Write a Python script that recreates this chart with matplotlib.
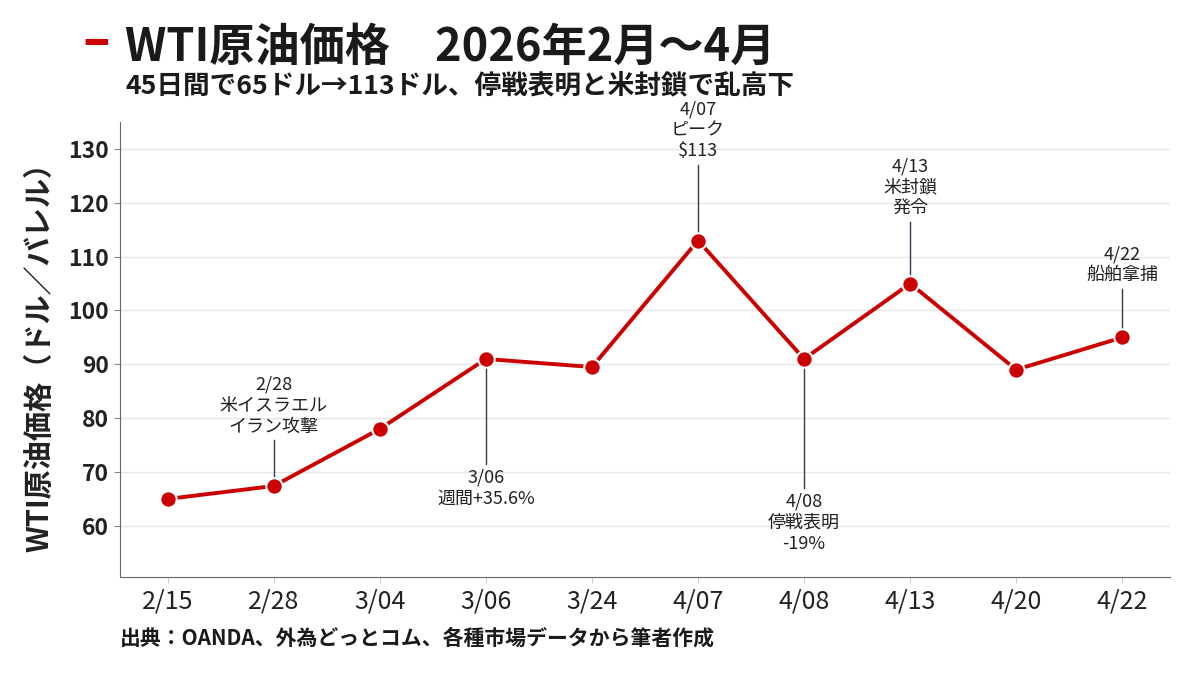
import matplotlib
matplotlib.use('Agg')
import matplotlib.pyplot as plt

plt.rcParams['font.family'] = ['Noto Sans CJK JP', 'DejaVu Sans']

dates = ['2/15', '2/28', '3/04', '3/06', '3/24', '4/07', '4/08', '4/13', '4/20', '4/22']
prices = [65, 67.4, 78, 91, 89.5, 113, 91, 105, 89, 95]

# annotations: index, text, above/below
notes = [
    (1, '2/28\n米イスラエル\nイラン攻撃', 'up'),
    (3, '3/06\n週間+35.6%', 'down'),
    (5, '4/07\nピーク\n$113', 'up'),
    (6, '4/08\n停戦表明\n-19%', 'down'),
    (7, '4/13\n米封鎖\n発令', 'up'),
    (9, '4/22\n船舶拿捕', 'up'),
]
# line length (price units) for each note
note_len = [8.5, 19.5, 14, 24, 11.5, 9]

red = '#cc0000'
navy = '#2c3e50'

fig = plt.figure(figsize=(12, 6.8), dpi=100)
ax = fig.add_axes([0.1, 0.1515, 0.875, 0.669])

x = list(range(len(dates)))
ax.plot(x, prices, color=red, lw=2.8, zorder=3)
ax.scatter(x, prices, s=140, color=red, edgecolor='white', linewidth=1.5, zorder=4)

for (i, txt, side), L in zip(notes, note_len):
    y0 = prices[i]
    if side == 'up':
        y1 = y0 + L
        ax.plot([i, i], [y0, y1], color=navy, lw=1, zorder=2)
        ax.text(i, y1 + 0.9, txt, ha='center', va='bottom', fontsize=13,
                color='#222222', linespacing=1.2)
    else:
        y1 = y0 - L
        ax.plot([i, i], [y0, y1], color=navy, lw=1, zorder=2)
        ax.text(i, y1 - 0.9, txt, ha='center', va='top', fontsize=13,
                color='#222222', linespacing=1.2)

ax.set_xlim(-0.45, 9.45)
ax.set_ylim(50.5, 135)
ax.set_xticks(x)
ax.set_xticklabels(dates, fontsize=18, color='#222222')
ax.set_yticks(range(60, 131, 10))
ax.set_yticklabels([str(v) for v in range(60, 131, 10)], fontsize=16.5,
                   fontweight='bold', color='#222222')
ax.tick_params(axis='x', length=4, color='#cccccc', pad=4)
ax.tick_params(axis='y', length=4, color='#888888', pad=4)
ax.grid(axis='y', color='#e6e6e6', lw=1)
ax.set_axisbelow(True)
for s in ['top', 'right']:
    ax.spines[s].set_visible(False)
for s in ['left', 'bottom']:
    ax.spines[s].set_color('#666666')

ax.set_ylabel('WTI原油価格（ドル／バレル）', fontsize=21, fontweight='bold',
              color='#222222', labelpad=10)

# title block
fig.text(0.071, 0.935, '━', color=red, fontsize=26, va='center', ha='left',
         family=['DejaVu Sans'])
fig.text(0.104, 0.929, 'WTI原油価格　2026年2月～4月', fontsize=32.5,
         fontweight='bold', color='#1a1a1a', va='center', ha='left')
fig.text(0.105, 0.874, '45日間で65ドル→113ドル、停戦表明と米封鎖で乱高下',
         fontsize=19.2, fontweight='bold', color='#1a1a1a', va='center', ha='left')

fig.text(0.1, 0.062, '出典：OANDA、外為どっとコム、各種市場データから筆者作成',
         fontsize=15, fontweight='bold', color='#1a1a1a', va='center', ha='left')

fig.savefig('out.png', dpi=100, facecolor='white')
